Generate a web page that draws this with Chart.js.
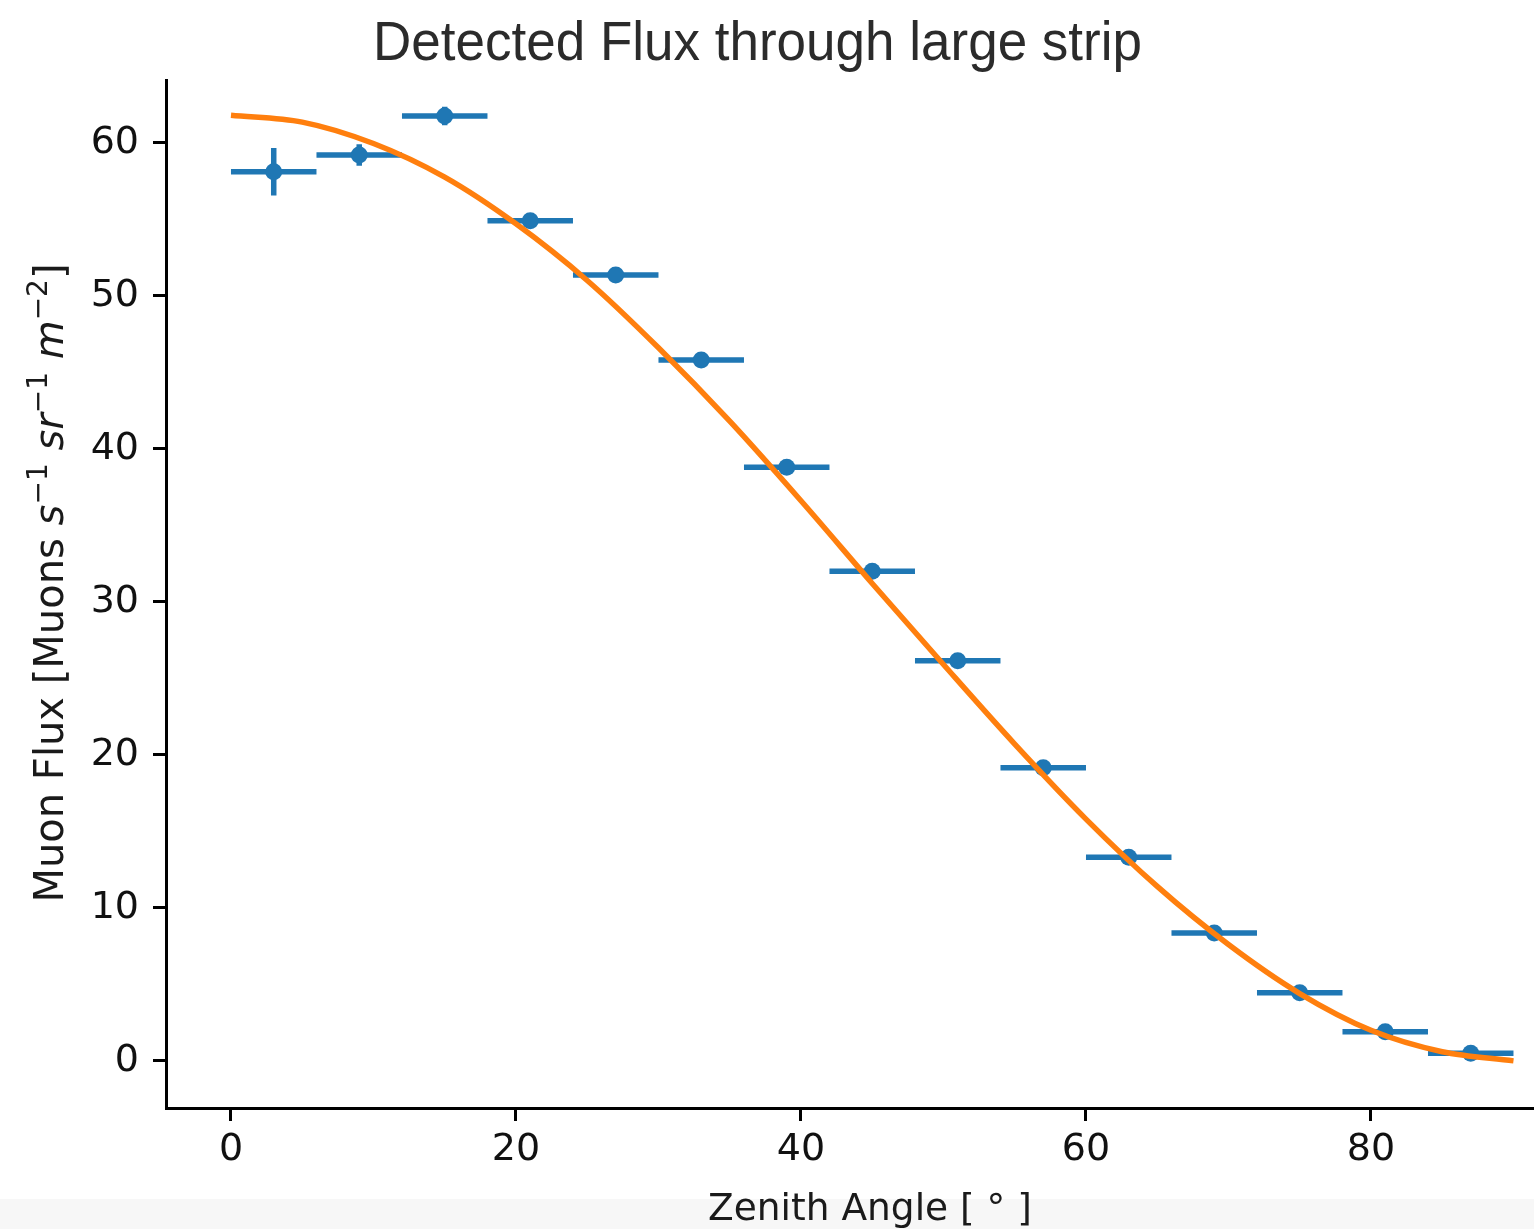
<!DOCTYPE html>
<html>
<head>
<meta charset="utf-8">
<script src="https://cdn.jsdelivr.net/npm/chart.js@4.4.1/dist/chart.umd.min.js"></script>
<style>
  html, body { margin: 0; padding: 0; background: #ffffff; overflow: hidden; }
  #wrap { position: relative; width: 1534px; height: 1229px; overflow: hidden;
          background: linear-gradient(#ffffff 0, #ffffff 1199px, #f7f7f7 1199px); }
  canvas { display: block; }
</style>
</head>
<body>
<div id="wrap"><canvas id="c" width="1534" height="1229"></canvas></div>
<script>
// ---- Data ----
const zenithAngles = [3, 9, 15, 21, 27, 33, 39, 45, 51, 57, 63, 69, 75, 81, 87];
const fluxValues   = [58.1, 59.2, 61.75, 54.9, 51.35, 45.8, 38.8, 32.0, 26.15, 19.15, 13.3, 8.35, 4.45, 1.9, 0.5];
const angleErrors  = [3, 3, 3, 3, 3, 3, 3, 3, 3, 3, 3, 3, 3, 3, 3];
const fluxErrors   = [1.55, 0.7, 0.6, 0.25, 0.2, 0.2, 0.15, 0.15, 0.15, 0.1, 0.1, 0.1, 0.1, 0.1, 0.1];

const fitAngles = [0, 5, 10, 15, 20, 25, 30, 35, 40, 45, 50, 55, 60, 65, 70, 75, 80, 85, 90];
const fitFlux   = [61.8, 61.35, 59.95, 57.75, 54.7, 51.0, 46.6, 41.8, 36.6, 31.2, 25.9, 20.7, 15.8, 11.4, 7.6, 4.4, 2.0, 0.6, 0.0];

const xTickStep = 20;
const yTickStep = 10;

const titleText = "Detected Flux through large strip";
const xLabelText = "Zenith Angle [ \u00B0 ]";
const yLabelParts = [
  { t: "Muon Flux [Muons ", style: "n" },
  { t: "s", style: "i" },
  { t: "\u22121", style: "sup" },
  { t: " ", style: "n" },
  { t: "sr", style: "i" },
  { t: "\u22121", style: "sup" },
  { t: " ", style: "n" },
  { t: "m", style: "i" },
  { t: "\u22122", style: "sup" },
  { t: "]", style: "n" }
];

const BLUE = '#1f77b4';
const ORANGE = '#ff7f0e';

// ---- Plugins ----
const errorBarPlugin = {
  id: 'errorBars',
  beforeDatasetsDraw(chart) {
    const ctx = chart.ctx;
    const xs = chart.scales.x, ys = chart.scales.y;
    ctx.save();
    ctx.strokeStyle = BLUE;
    ctx.lineWidth = 5.5;
    ctx.lineCap = 'butt';
    for (let i = 0; i < zenithAngles.length; i++) {
      const x = zenithAngles[i], y = fluxValues[i];
      const px = xs.getPixelForValue(x), py = ys.getPixelForValue(y);
      ctx.beginPath();
      ctx.moveTo(xs.getPixelForValue(x - angleErrors[i]), py);
      ctx.lineTo(xs.getPixelForValue(x + angleErrors[i]), py);
      ctx.moveTo(px, ys.getPixelForValue(y - fluxErrors[i]));
      ctx.lineTo(px, ys.getPixelForValue(y + fluxErrors[i]));
      ctx.stroke();
    }
    ctx.restore();
  }
};

const textPlugin = {
  id: 'texts',
  afterDraw(chart) {
    const ctx = chart.ctx;
    ctx.save();
    // Title
    ctx.fillStyle = '#2b2b2b';
    ctx.font = '56px "Liberation Sans", Arial, sans-serif';
    ctx.textBaseline = 'alphabetic';
    ctx.textAlign = 'left';
    const tw = ctx.measureText(titleText).width;
    const targetW = 769;
    ctx.save();
    ctx.translate(757.5 - targetW / 2, 60);
    ctx.scale(targetW / tw, 1);
    ctx.fillText(titleText, 0, 0);
    ctx.restore();

    // X label
    ctx.fillStyle = '#1a1a1a';
    ctx.font = '37.5px "DejaVu Sans", sans-serif';
    ctx.textAlign = 'center';
    ctx.fillText(xLabelText, 870, 1220);

    // Y label (rotated, with italic parts and superscripts)
    const fonts = {
      n: '40px "DejaVu Sans", sans-serif',
      i: 'oblique 40px "DejaVu Sans", sans-serif',
      sup: '28px "DejaVu Sans", sans-serif'
    };
    let total = 0;
    const widths = yLabelParts.map(p => { ctx.font = fonts[p.style]; const w = ctx.measureText(p.t).width; total += w; return w; });
    ctx.translate(63, 583);
    ctx.rotate(-Math.PI / 2);
    ctx.textAlign = 'left';
    let cx = -total / 2;
    yLabelParts.forEach((p, k) => {
      ctx.font = fonts[p.style];
      ctx.fillText(p.t, cx, p.style === 'sup' ? -16 : 0);
      cx += widths[k];
    });
    ctx.restore();
  }
};

// ---- Chart ----
const ctx = document.getElementById('c').getContext('2d');
new Chart(ctx, {
  type: 'scatter',
  data: {
    datasets: [
      {
        type: 'line',
        label: 'fit',
        data: fitAngles.map((a, i) => ({ x: a, y: fitFlux[i] })),
        borderColor: ORANGE,
        borderWidth: 5.5,
        pointRadius: 0,
        fill: false,
        cubicInterpolationMode: 'monotone',
        order: 0
      },
      {
        label: 'data',
        data: zenithAngles.map((a, i) => ({ x: a, y: fluxValues[i] })),
        backgroundColor: BLUE,
        borderColor: BLUE,
        borderWidth: 0,
        pointRadius: 8.5,
        order: 1
      }
    ]
  },
  options: {
    responsive: false,
    animation: false,
    layout: { autoPadding: false, padding: { top: 80, right: 0, left: 0, bottom: 0 } },
    plugins: { legend: { display: false }, tooltip: { enabled: false }, title: { display: false } },
    scales: {
      x: {
        type: 'linear',
        min: -4.56,
        max: 91.44,
        afterFit(s) { s.height = 121; s.paddingLeft = 0; s.paddingRight = 0; },
        ticks: {
          stepSize: xTickStep,
          includeBounds: false,
          color: '#111',
          font: { family: 'DejaVu Sans', size: 38 },
          padding: 6,
          maxRotation: 0
        },
        grid: { drawOnChartArea: false, tickLength: 13, color: '#000', tickWidth: 3 },
        border: { color: '#000', width: 3 }
      },
      y: {
        type: 'linear',
        min: -3.08,
        max: 64.1,
        afterFit(s) { s.width = 166; s.paddingTop = 0; s.paddingBottom = 0; },
        ticks: {
          stepSize: yTickStep,
          includeBounds: false,
          color: '#111',
          font: { family: 'DejaVu Sans', size: 38 },
          padding: 14
        },
        grid: { drawOnChartArea: false, tickLength: 13, color: '#000', tickWidth: 3 },
        border: { color: '#000', width: 3 }
      }
    }
  },
  plugins: [errorBarPlugin, textPlugin]
});
</script>
</body>
</html>
